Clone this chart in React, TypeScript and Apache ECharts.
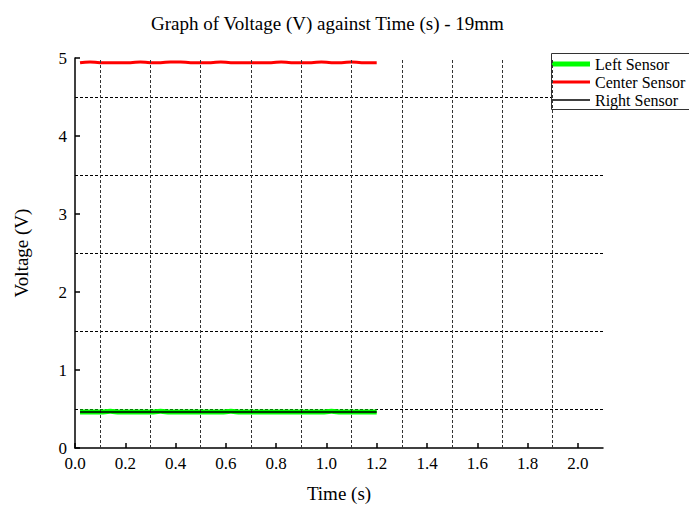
import React, { useEffect, useRef } from "react";
import * as echarts from "echarts";

const timeS = [0.02, 0.06, 0.10, 0.14, 0.18, 0.22, 0.26, 0.30, 0.34, 0.38, 0.42, 0.46, 0.50, 0.54, 0.58, 0.62, 0.66, 0.70, 0.74, 0.78, 0.82, 0.86, 0.90, 0.94, 0.98, 1.02, 1.06, 1.10, 1.14, 1.18, 1.20];
const centerSensor = [4.94, 4.95, 4.94, 4.94, 4.94, 4.94, 4.95, 4.94, 4.94, 4.95, 4.95, 4.94, 4.94, 4.94, 4.95, 4.94, 4.94, 4.94, 4.94, 4.94, 4.95, 4.94, 4.94, 4.94, 4.95, 4.94, 4.94, 4.95, 4.94, 4.94, 4.94];
const leftSensor = [0.46, 0.46, 0.46, 0.47, 0.46, 0.46, 0.46, 0.46, 0.47, 0.46, 0.46, 0.46, 0.46, 0.46, 0.46, 0.47, 0.46, 0.46, 0.46, 0.46, 0.46, 0.46, 0.46, 0.46, 0.46, 0.47, 0.46, 0.46, 0.46, 0.46, 0.46];
const rightSensor = [0.46, 0.46, 0.46, 0.46, 0.46, 0.46, 0.46, 0.46, 0.46, 0.46, 0.46, 0.46, 0.46, 0.46, 0.46, 0.46, 0.46, 0.46, 0.46, 0.46, 0.46, 0.46, 0.46, 0.46, 0.46, 0.46, 0.46, 0.46, 0.46, 0.46, 0.46];
const gridX = [0.1, 0.3, 0.5, 0.7, 0.9, 1.1, 1.3, 1.5, 1.7, 1.9];
const seriesNames = ["Left Sensor", "Center Sensor", "Right Sensor"];

const FONT = "Liberation Serif";

export default function App() {
  const ref = useRef<HTMLDivElement>(null);
  useEffect(() => {
    if (!ref.current) return;
    const chart = echarts.init(ref.current, null, { renderer: "svg" });
    const pairs = (ys: number[]) => timeS.map((t, i) => [t, ys[i]]);
    const legendIcons = ["path://M0,0H38V5H0Z", "path://M0,0H38V3H0Z", "path://M0,0H38V1.6H0Z"];
    chart.setOption({
      animation: false,
      backgroundColor: "#fff",
      textStyle: { fontFamily: FONT, color: "#000" },
      title: {
        text: "Graph of Voltage (V) against Time (s) - 19mm",
        left: 146,
        top: 9,
        textStyle: { fontFamily: FONT, fontSize: 19, fontWeight: "normal", color: "#000" },
      },
      graphic: [
        {
          type: "rect",
          left: 551,
          top: 53,
          z: 3,
          shape: { width: 200, height: 56 },
          style: { fill: "#fff", stroke: "#333", lineWidth: 1 },
          silent: true,
        },
      ],
      legend: {
        data: seriesNames.map((n, i) => ({ name: n, icon: legendIcons[i] })),
        orient: "vertical",
        left: 551,
        top: 53,
        z: 5,
        itemWidth: 38,
        itemHeight: 14,
        itemGap: 2,
        symbolKeepAspect: true,
        padding: [3, 4, 3, 1],
        borderWidth: 0,
        backgroundColor: "transparent",
        textStyle: { fontFamily: FONT, fontSize: 16, lineHeight: 16, color: "#000" },
      },
      grid: { left: 75, right: 86, top: 58, bottom: 58, containLabel: false },
      xAxis: {
        type: "value",
        min: 0,
        max: 2.1,
        interval: 0.2,
        name: "Time (s)",
        nameLocation: "middle",
        nameGap: 36,
        nameTextStyle: { fontFamily: FONT, fontSize: 19, color: "#000" },
        axisLine: { show: true, onZero: false, lineStyle: { color: "#000", width: 1.5 } },
        axisTick: { show: true, inside: true, length: 5, lineStyle: { color: "#000", width: 1.5 } },
        axisLabel: {
          fontFamily: FONT,
          fontSize: 17,
          color: "#000",
          margin: 7,
          showMaxLabel: false,
          formatter: (v: number) => (v > 2.05 ? "" : v.toFixed(1)),
        },
        splitLine: { show: false },
      },
      yAxis: {
        type: "value",
        min: 0,
        max: 5,
        interval: 1,
        name: "Voltage (V)",
        nameLocation: "middle",
        nameGap: 44,
        nameTextStyle: { fontFamily: FONT, fontSize: 19, color: "#000" },
        axisLine: { show: true, lineStyle: { color: "#000", width: 1.5 } },
        axisTick: { show: true, inside: true, length: 5, lineStyle: { color: "#000", width: 1.5 } },
        axisLabel: { fontFamily: FONT, fontSize: 17, color: "#000", margin: 8 },
        splitLine: { show: false },
        minorTick: { show: false, splitNumber: 2 },
        minorSplitLine: { show: true, lineStyle: { type: [3, 2], color: "#000", width: 1 } },
      },
      series: [
        {
          name: "gridlines",
          type: "line",
          data: [],
          z: 1,
          silent: true,
          markLine: {
            silent: true,
            symbol: "none",
            label: { show: false },
            lineStyle: { type: [3, 2], color: "#333", width: 1 },
            data: gridX.map((x) => ({ xAxis: x })),
          },
        },
        {
          name: "Left Sensor",
          type: "line",
          data: pairs(leftSensor),
          showSymbol: false,
          symbol: "none",
          smooth: true,
          z: 3,
          lineStyle: { color: "#00ff00", width: 5 },
          itemStyle: { color: "#00ff00" },
        },
        {
          name: "Center Sensor",
          type: "line",
          data: pairs(centerSensor),
          showSymbol: false,
          symbol: "none",
          smooth: true,
          z: 4,
          lineStyle: { color: "#ff0000", width: 3 },
          itemStyle: { color: "#ff0000" },
        },
        {
          name: "Right Sensor",
          type: "line",
          data: pairs(rightSensor),
          showSymbol: false,
          symbol: "none",
          smooth: true,
          z: 5,
          lineStyle: { color: "#000", width: 1.5 },
          itemStyle: { color: "#000" },
        },
      ],
    });
    return () => chart.dispose();
  }, []);
  return <div ref={ref} style={{ width: 689, height: 508, position: "fixed", left: 0, top: 0 }} />;
}
